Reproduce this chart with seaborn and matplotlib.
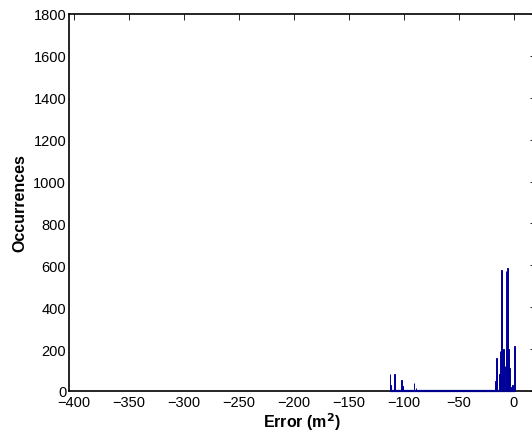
import numpy as np
import pandas as pd
import matplotlib
matplotlib.use("Agg")
import matplotlib.pyplot as plt
import seaborn as sns

# bin centres (m^2) and occurrences
bin_centers = [-112.75, -112.25, -108.75, -102.25, -101.25, -100.75, -98.25,
               -90.75, -89.25, -74.25,
               -17.25, -16.75, -15.75, -15.25, -13.25, -12.75, -11.25, -10.75,
               -9.75, -9.25, -8.25, -7.25, -6.75, -5.75, -5.25, -4.75, -4.25,
               -3.75, -3.25, -1.25, 0.25]
counts = [81, 29, 81, 54, 25, 10, 5,
          38, 12, 5,
          30, 48, 157, 40, 80, 192, 577, 150,
          200, 195, 120, 574, 200, 587, 377, 200, 110,
          50, 20, 30, 215]
x_ticks = [-400, -350, -300, -250, -200, -150, -100, -50, 0]
y_ticks = [0, 200, 400, 600, 800, 1000, 1200, 1400, 1600, 1800]

df = pd.DataFrame({"err": bin_centers, "n": counts})

sns.set_style("white")
plt.rcParams["font.family"] = ["Liberation Sans", "DejaVu Sans"]
plt.rcParams["text.color"] = "black"
plt.rcParams["axes.labelcolor"] = "black"

fig = plt.figure(figsize=(5.32, 4.35), dpi=100)
ax = fig.add_axes([69/532, 43/435, 467/532, 377/435])

sns.histplot(data=df, x="err", weights="n", binwidth=0.5, binrange=(-113.0, 1.0),
             ax=ax, color="#00008F", edgecolor="#00009A", linewidth=0.7, alpha=1.0,
             zorder=3, clip_on=False)

# blue baseline of the (mostly empty) histogram bins, as in the reference
lo = min(bin_centers) - 0.25
hi = max(bin_centers) + 0.25
ax.plot([lo, hi], [0, 0], color="#00008F", linewidth=1.6, zorder=4,
        clip_on=False, solid_capstyle="butt")

ax.set_xlim(-404.5, 20)
ax.set_ylim(0, 1800)
ax.set_xticks(x_ticks)
ax.set_yticks(y_ticks)
ax.set_xticklabels([str(t).replace("-", "\u2212") for t in x_ticks])
ax.tick_params(direction="in", length=4, width=0.6, labelsize=10.5,
               top=True, right=True, colors="black", pad=2)
ax.tick_params(axis="x", pad=3)
for s in ax.spines.values():
    s.set_linewidth(1.2)
    s.set_color("black")

ax.set_xlabel("Error (m$^\\mathbf{2}$)", fontsize=11.5, fontweight="bold", labelpad=1)
ax.set_ylabel("Occurrences", fontsize=11.5, fontweight="bold", labelpad=4)

fig.savefig("out.png", dpi=100)
